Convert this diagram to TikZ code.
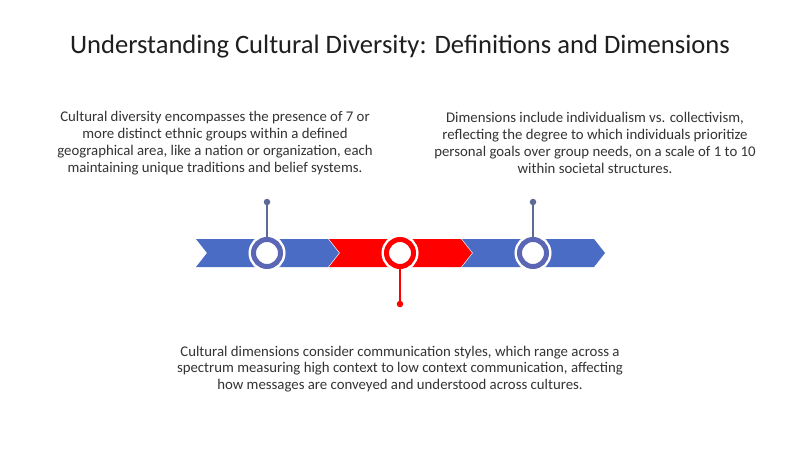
\documentclass[tikz,border=0pt]{standalone}
\usepackage{fontspec}
\setmainfont{Carlito}
\definecolor{barblue}{HTML}{4A6CC4}
\definecolor{ringblue}{HTML}{5B66B5}
\definecolor{barred}{HTML}{FF0000}
\definecolor{stemgray}{HTML}{5E6A96}
\definecolor{txtgray}{HTML}{333333}
\begin{document}
\begin{tikzpicture}[x=1pt,y=-1pt,
	ring/.style={circle,draw=#1,line width=5pt,fill=white,minimum size=27pt,inner sep=0pt,
		preaction={draw=white,line width=10pt}},
	dot/.style={circle,fill=#1,inner sep=0pt,minimum size=6.5pt},
	stem/.style={draw=#1,line width=1.4pt},
	body/.style={align=center,text=txtgray,font=\fontsize{14.8}{16.8}\selectfont}]
		\useasboundingbox (0,0) rectangle (800,449);
		\fill[white] (0,0) rectangle (800,449);
		
		%title
		\node (title) at (400,47) [font=\fontsize{26.6}{30}\selectfont, text=black!88]
			{Understanding Cultural Diversity: Definitions and Dimensions};
		
		%chevrons
		\foreach \x/\c in {196/barblue, 329/barred, 462/barblue}{
			\fill[\c] (\x,239) -- (\x+132,239) -- (\x+143,253) -- (\x+132,267)
				-- (\x,267) -- (\x+11,253) -- cycle;
		}
		
		%rings
		\node (r1) at (267,253) [ring=ringblue]{};
		\node (r2) at (400,253) [ring=barred]{};
		\node (r3) at (533,253) [ring=ringblue]{};
		
		%stems
		\node (d1) at (267,202) [dot=stemgray]{};
		\node (d2) at (400,304) [dot=barred]{};
		\node (d3) at (533,202) [dot=stemgray]{};
		\draw[stem=stemgray] (r1.north) -- (d1);
		\draw[stem=barred] (r2.south) -- (d2);
		\draw[stem=stemgray] (r3.north) -- (d3);
		
		%texts
		\node (t1) at (215,143) [body]{Cultural diversity encompasses the presence of 7 or\\
			more distinct ethnic groups within a defined\\
			geographical area, like a nation or organization, each\\
			maintaining unique traditions and belief systems.};
		\node (t3) at (595,143) [body]{Dimensions include individualism vs. collectivism,\\
			reflecting the degree to which individuals prioritize\\
			personal goals over group needs, on a scale of 1 to 10\\
			within societal structures.};
		\node (t2) at (400,369) [body]{Cultural dimensions consider communication styles, which range across a\\
			spectrum measuring high context to low context communication, affecting\\
			how messages are conveyed and understood across cultures.};
\end{tikzpicture}
\end{document}
